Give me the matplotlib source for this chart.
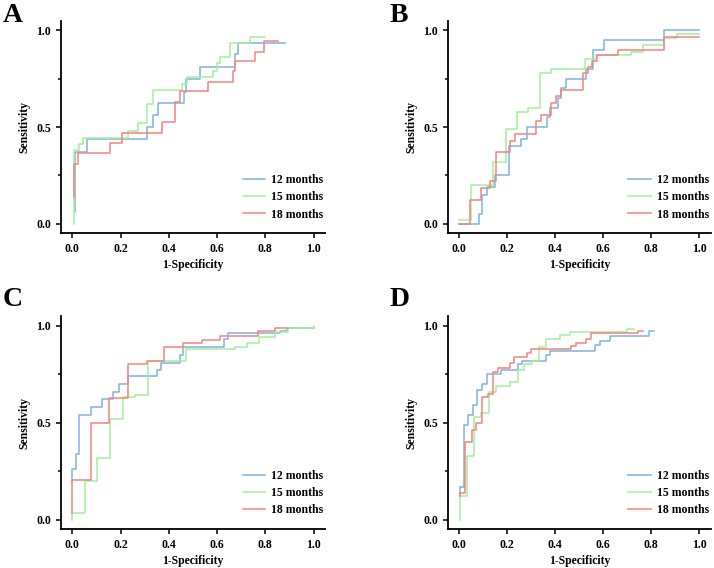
import numpy as np
import matplotlib.pyplot as plt
from matplotlib.ticker import MultipleLocator

plt.rcParams['font.family'] = ['Liberation Serif', 'DejaVu Serif']
plt.rcParams['font.weight'] = 'bold'

# ROC step vertices: at each fpr the curve rises to the given tpr
# panel A
a_fpr_12 = [0.01, 0.01, 0.06, 0.308, 0.333, 0.357, 0.463, 0.47, 0.53, 0.675, 0.688, 0.88]
a_tpr_12 = [0.06, 0.373, 0.437, 0.50, 0.563, 0.623, 0.683, 0.75, 0.81, 0.875, 0.936, 0.936]
a_fpr_15 = [0.005, 0.005, 0.028, 0.043, 0.232, 0.274, 0.308, 0.336, 0.454, 0.474, 0.585, 0.60, 0.613, 0.654, 0.737, 0.80]
a_tpr_15 = [0.0, 0.38, 0.41, 0.445, 0.48, 0.52, 0.62, 0.69, 0.72, 0.76, 0.79, 0.83, 0.86, 0.935, 0.965, 0.965]
a_fpr_18 = [0.005, 0.005, 0.025, 0.156, 0.205, 0.37, 0.426, 0.447, 0.564, 0.665, 0.675, 0.758, 0.793, 0.852]
a_tpr_18 = [0.14, 0.31, 0.365, 0.42, 0.47, 0.525, 0.63, 0.685, 0.735, 0.79, 0.84, 0.89, 0.945, 0.945]

# panel B
b_fpr_12 = [0.0, 0.083, 0.093, 0.114, 0.15, 0.208, 0.255, 0.283, 0.366, 0.38, 0.41, 0.425, 0.446, 0.526, 0.557, 0.605, 0.855, 1.0]
b_tpr_12 = [0.0, 0.05, 0.15, 0.19, 0.25, 0.40, 0.44, 0.50, 0.55, 0.60, 0.65, 0.70, 0.75, 0.80, 0.90, 0.95, 1.0, 1.0]
b_fpr_15 = [0.0, 0.048, 0.141, 0.193, 0.241, 0.287, 0.335, 0.384, 0.522, 0.57, 0.716, 0.765, 0.855, 0.906, 1.0]
b_tpr_15 = [0.02, 0.20, 0.32, 0.49, 0.58, 0.60, 0.78, 0.80, 0.85, 0.87, 0.89, 0.925, 0.96, 0.98, 0.98]
b_fpr_18 = [0.0, 0.044, 0.089, 0.127, 0.152, 0.213, 0.231, 0.321, 0.339, 0.384, 0.404, 0.425, 0.515, 0.536, 0.554, 0.573, 0.66, 0.855, 1.0]
b_tpr_18 = [0.0, 0.125, 0.185, 0.22, 0.37, 0.43, 0.465, 0.53, 0.56, 0.625, 0.66, 0.69, 0.78, 0.81, 0.84, 0.87, 0.90, 0.965, 0.965]

# panel C
c_fpr_12 = [0.0, 0.0, 0.015, 0.029, 0.076, 0.122, 0.167, 0.195, 0.23, 0.35, 0.368, 0.447, 0.46, 0.629, 0.645, 0.862, 0.89, 1.0]
c_tpr_12 = [0.2, 0.26, 0.34, 0.54, 0.58, 0.62, 0.66, 0.70, 0.74, 0.77, 0.81, 0.85, 0.89, 0.93, 0.96, 0.975, 0.99, 0.99]
c_fpr_15 = [0.0, 0.0, 0.053, 0.104, 0.156, 0.212, 0.26, 0.315, 0.472, 0.675, 0.723, 0.772, 0.841, 0.892, 1.0, 1.0]
c_tpr_15 = [0.0, 0.033, 0.20, 0.32, 0.52, 0.63, 0.645, 0.82, 0.88, 0.89, 0.91, 0.94, 0.97, 0.99, 0.99, 1.0]
c_fpr_18 = [0.0, 0.0, 0.076, 0.154, 0.23, 0.308, 0.382, 0.46, 0.537, 0.613, 0.768, 0.841, 0.892]
c_tpr_18 = [0.035, 0.205, 0.50, 0.625, 0.80, 0.82, 0.89, 0.91, 0.925, 0.945, 0.975, 0.99, 0.99]

# panel D
d_fpr_12 = [0.002, 0.002, 0.02, 0.037, 0.055, 0.075, 0.093, 0.114, 0.173, 0.245, 0.262, 0.36, 0.38, 0.564, 0.585, 0.629, 0.792, 0.813]
d_tpr_12 = [0.12, 0.17, 0.49, 0.54, 0.59, 0.67, 0.70, 0.75, 0.77, 0.80, 0.82, 0.85, 0.87, 0.90, 0.92, 0.945, 0.975, 0.975]
d_fpr_15 = [0.002, 0.002, 0.033, 0.062, 0.089, 0.123, 0.152, 0.213, 0.245, 0.27, 0.305, 0.332, 0.363, 0.421, 0.46, 0.70, 0.73]
d_tpr_15 = [0.0, 0.12, 0.33, 0.53, 0.55, 0.66, 0.69, 0.71, 0.77, 0.80, 0.82, 0.89, 0.93, 0.95, 0.965, 0.985, 0.985]
d_fpr_18 = [0.002, 0.002, 0.024, 0.051, 0.069, 0.093, 0.12, 0.141, 0.162, 0.21, 0.229, 0.28, 0.30, 0.467, 0.488, 0.529, 0.55, 0.744, 0.767]
d_tpr_18 = [0.12, 0.135, 0.40, 0.46, 0.50, 0.63, 0.65, 0.76, 0.78, 0.81, 0.84, 0.86, 0.88, 0.895, 0.91, 0.93, 0.96, 0.975, 0.975]

labels = ['12 months', '15 months', '18 months']
colors = ['#7fb3e3', '#a3f09c', '#f5827c']

panels = [
    ('A', [(a_fpr_12, a_tpr_12), (a_fpr_15, a_tpr_15), (a_fpr_18, a_tpr_18)]),
    ('B', [(b_fpr_12, b_tpr_12), (b_fpr_15, b_tpr_15), (b_fpr_18, b_tpr_18)]),
    ('C', [(c_fpr_12, c_tpr_12), (c_fpr_15, c_tpr_15), (c_fpr_18, c_tpr_18)]),
    ('D', [(d_fpr_12, d_tpr_12), (d_fpr_15, d_tpr_15), (d_fpr_18, d_tpr_18)]),
]

# axes boxes in figure fractions [left, bottom, width, height]
boxes = [
    [0.0854, 0.590, 0.370, 0.373],
    [0.6275, 0.590, 0.368, 0.373],
    [0.0854, 0.069, 0.370, 0.374],
    [0.6275, 0.069, 0.368, 0.374],
]
letter_pos = [(0.004, 0.995), (0.546, 0.995), (0.004, 0.495), (0.546, 0.495)]

fig = plt.figure(figsize=(7.14, 5.68), dpi=100)

for (letter, curves), box, lp in zip(panels, boxes, letter_pos):
    ax = fig.add_axes(box)
    for (fpr, tpr), lab, col in zip(curves, labels, colors):
        ax.step(fpr, tpr, where='post', color=col, lw=1.1, label=lab)
    ax.set_xlim(-0.047, 1.048)
    ax.set_ylim(-0.047, 1.048)
    ax.spines['top'].set_visible(False)
    ax.spines['right'].set_visible(False)
    ax.spines['left'].set_linewidth(1.3)
    ax.spines['bottom'].set_linewidth(1.3)
    ax.yaxis.set_minor_locator(MultipleLocator(0.25))
    ax.tick_params(axis='both', which='major', direction='out', length=3.5, width=1.1,
                   labelsize=8.5)
    ax.tick_params(axis='x', which='major', pad=3.5)
    ax.tick_params(axis='y', which='minor', direction='out', length=2.5, width=1.1)
    ax.set_xticks(np.arange(0, 1.01, 0.2))
    ax.set_xticklabels([f'{v:.1f}' for v in np.arange(0, 1.01, 0.2)], fontweight='bold')
    ax.set_yticks([0, 0.5, 1.0])
    ax.set_yticklabels(['0.0', '0.5', '1.0'], fontweight='bold')
    ax.set_xlabel('1-Specificity', fontsize=8.5, fontweight='bold', labelpad=3)
    ax.set_ylabel('Sensitivity', fontsize=8.5, fontweight='bold', labelpad=4.5)
    ax.legend(loc='lower right', bbox_to_anchor=(1.011, 0.036), frameon=False,
              handlelength=1.9, handletextpad=0.5, labelspacing=0.45, borderaxespad=0.0,
              prop={'weight': 'bold', 'size': 8.5})
    fig.text(lp[0], lp[1], letter, fontsize=20, fontweight='bold', ha='left', va='top')

fig.savefig('out.png', dpi=100)
